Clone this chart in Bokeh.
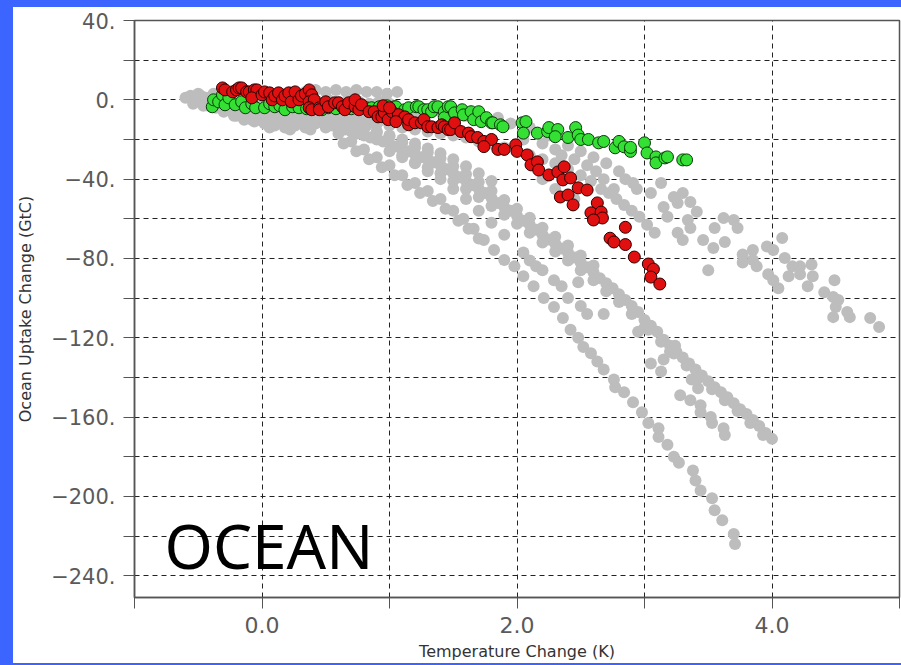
from bokeh.plotting import figure
from bokeh.layouts import row, column
from bokeh.models import Range1d, FixedTicker, Label, Spacer
from bokeh.embed import file_html
from bokeh.resources import INLINE

# ---------------- data ----------------
# grey model cloud: cluster near zero
gray_top_upper_x = [-0.56, -0.50, -0.44, -0.38, -0.30, -0.22, -0.14, -0.06, 0.02, 0.10, 0.18,
                    0.26, 0.34, 0.42, 0.50, 0.58, 0.66, 0.74, 0.82, 0.90, 0.98, 1.06]
gray_top_upper_y = [2, 3, 1, 3, 3, 2, 2, 1, 1, 2, 3, 4, 4, 5, 4, 5, 4, 5, 4, 4, 3, 4]

gray_top_row2_x = [-0.52, -0.44, -0.36, -0.28, -0.20, -0.12, -0.04, 0.04, 0.12, 0.20, 0.28, 0.36,
                   0.44, 0.52, 0.60, 0.68, 0.76, 0.84, 0.92, 1.00]
gray_top_row2_y = [0, -1, 0, -2, -1, -2, -3, -2, -3, -2, -1, -2, -1, 0, -1, 0, -1, -2, -1, -2]

gray_top_row3_x = [-0.60, -0.54, -0.48, -0.42, -0.36, -0.30, -0.24, -0.18, -0.12, -0.06, 0.00,
                   0.06, 0.12, 0.18, 0.24, 0.30, 0.36, 0.42, 0.48, 0.54, 0.60, 0.66, 0.72, 0.78,
                   0.84, 0.90, 0.96]
gray_top_row3_y = [1, -2, 2, -3, -4, -3, -5, -4, -5, -4, -5, -4, -5, -4, -3, -4, -3, -4, -3, -4,
                   -3, -2, -3, -2, -3, -2, -1]

gray_top_mid_x = [-0.52, -0.46, -0.40, -0.34, -0.26, -0.18, -0.10, -0.02, 0.06, 0.14, 0.22, 0.30,
                  0.38, 0.46, 0.54, 0.62, 0.70, 0.78, 0.86, 0.94, 1.02, 1.10, 1.20, 1.30, 1.40,
                  1.50, 1.60, 1.70]
gray_top_mid_y = [-1, -3, -1, -3, -4, -5, -6, -7, -6, -8, -7, -8, -6, -7, -6, -7, -6, -5, -6, -5,
                  -4, -5, -6, -5, -6, -7, -8, -9]

gray_top_row4_x = [-0.20, -0.14, -0.08, -0.02, 0.04, 0.10, 0.16, 0.22, 0.28, 0.34, 0.40, 0.46,
                   0.52, 0.58, 0.64, 0.70, 0.76, 0.82, 0.88, 0.94, 1.00]
gray_top_row4_y = [-8, -9, -10, -10, -11, -10, -11, -10, -11, -10, -9, -10, -9, -10, -9, -10, -9,
                   -10, -11, -10, -11]

gray_top_low_x = [-0.30, -0.22, -0.14, -0.06, 0.02, 0.10, 0.18, 0.26, 0.34, 0.42, 0.50, 0.58,
                  0.66, 0.74, 0.82, 0.90, 0.06, 0.22, 0.38]
gray_top_low_y = [-6, -8, -10, -11, -12, -13, -14, -13, -14, -12, -12, -12, -13, -12, -13, -12,
                  -14, -15, -15]

# grey strand just below the red series
gray_d_x = [0.60, 0.70, 0.80, 0.90, 1.00, 1.10, 1.20, 1.30, 1.40, 1.50, 1.60, 1.70, 1.80, 1.90,
            2.00, 2.10, 2.20, 2.30, 2.40, 2.50, 2.58, 2.66, 2.72, 2.78, 2.84, 2.90, 2.96, 3.02, 3.08]
gray_d_y = [-9, -10, -11, -12, -13, -14, -15, -16, -17, -18, -19, -21, -22, -24, -26, -28, -30,
            -32, -35, -38, -41, -45, -47, -50, -53, -56, -59, -63, -67]

# grey strand between that one and the long band
gray_f_x = [0.70, 0.80, 0.90, 1.00, 1.10, 1.20, 1.30, 1.40, 1.50, 1.60, 1.70, 1.80]
gray_f_y = [-13, -14.5, -16, -18, -20, -22, -24.5, -27, -30, -33.5, -37, -41]

# grey scatter between green and red, right half
gray_e_x = [1.85, 1.95, 2.05, 2.10, 2.20, 2.25, 2.30, 2.35, 2.40, 2.45, 2.50, 2.55, 2.60, 2.62,
            2.68, 2.70, 2.76, 2.80, 2.85, 2.91, 2.94, 3.05, 3.13, 3.23, 3.30, 3.26, 3.36, 3.41,
            3.15, 3.18, 3.34, 3.26, 3.30, 3.36, 3.46, 3.54, 3.55, 3.63, 3.62, 3.70, 3.73, 3.50,
            2.20, 2.30, 2.45]
gray_e_y = [-9, -12, -20, -14, -22, -18, -25, -28, -23, -30, -26, -33, -29, -36, -40, -32, -45,
            -36, -40, -42, -45, -47, -42, -49, -47, -52, -51.5, -56.5, -54, -59, -60.6, -67,
            -70.7, -64.6, -70.7, -74.7, -64.6, -71.7, -59.6, -60.6, -64.6, -85.9, -40, -45, -50]

# grey tail on the far right
gray_r_x = [3.77, 3.77, 3.85, 3.85, 3.88, 3.96, 4.01, 4.08, 4.10, 4.16, 4.13, 4.22, 4.22, 4.31,
            4.32, 4.28, 4.05, 3.97, 4.01, 4.41, 4.49, 4.48, 4.52, 4.50, 4.48, 4.59, 4.61, 4.77, 4.84]
gray_r_y = [-78, -82, -75.8, -80.8, -84, -74, -75.8, -69.7, -79.8, -84, -89, -84, -88, -83, -89,
            -94, -95, -88, -91, -97, -91, -99.5, -101, -104.5, -109.6, -107, -109.6, -110, -114.6]

# long grey band ending near (4.0, -170)
gray_a_x = [0.50, 0.55, 0.60, 0.65, 0.70, 0.75, 0.80, 0.85, 0.90, 0.95, 1.00, 1.05, 1.10, 1.15,
            1.20, 1.25, 1.30, 1.35, 1.40, 1.45, 1.50, 1.55, 1.60, 1.65, 1.70, 1.75, 1.80, 1.85,
            1.90, 1.95, 2.00, 2.05, 2.10, 2.15, 2.20, 2.25, 2.30, 2.35, 2.40, 2.45, 2.50, 2.55,
            2.60, 2.65, 2.70, 2.75, 2.80, 2.85, 2.90, 2.95, 3.00, 3.05, 3.10, 3.15, 3.20, 3.25,
            3.30, 3.35, 3.40, 3.45, 3.50, 3.55, 3.60, 3.65, 3.70, 3.75, 3.80, 3.85, 3.90, 3.95, 4.00]
gray_a_y = [-12, -13, -14, -15, -16, -17, -18, -19, -20, -21, -22, -23.5, -25, -26, -27.5, -29,
            -30, -31.5, -33, -35, -37, -39, -41, -43, -45, -47, -49.5, -52, -54, -56, -58.5, -61,
            -63, -65.5, -68, -70.5, -72.5, -75, -77, -79.5, -82, -84.5, -87, -90, -92.5, -95, -98,
            -101, -104, -107, -111, -114, -117, -121, -124, -127, -130, -133, -136, -139, -142,
            -145, -147.5, -150, -153, -156, -158.5, -161.5, -164.5, -168, -171]

gray_a2_x = [1.00, 1.10, 1.20, 1.30, 1.40, 1.50, 1.60, 1.70, 1.80, 1.90, 2.00, 2.10, 2.20, 2.30,
             2.40, 2.50, 2.60, 2.70, 2.80, 2.90, 3.00]
gray_a2_y = [-26, -29, -31.5, -34, -37, -41, -45, -49, -53.5, -58, -62.5, -67, -72, -76.5, -81,
             -86, -91, -96.5, -102, -108, -115]

gray_a3_x = [0.60, 0.70, 0.80, 0.90, 1.00, 1.10, 1.20, 1.30, 1.40, 1.50, 1.60, 1.70, 1.80, 1.90,
             2.00, 2.10, 2.20, 2.30, 2.40, 2.50, 2.60]
gray_a3_y = [-10.5, -12.5, -14.5, -16.5, -18.5, -21.5, -24, -26.5, -29.5, -33.5, -37.5, -41.5,
             -46, -50.5, -55, -59.5, -64.5, -69, -73.5, -78.5, -83.5]

gray_a4_x = [3.03, 3.13, 3.23, 3.33, 3.43, 3.53, 3.63, 3.73, 3.83, 3.93]
gray_a4_y = [-116, -122, -128, -134, -140, -146, -151.5, -157, -163, -169]

# steep grey band ending near (3.7, -224)
gray_b_x = [0.50, 0.60, 0.70, 0.80, 0.90, 1.00, 1.10, 1.20, 1.30, 1.40, 1.50, 1.58, 1.66, 1.74,
            1.82, 1.90, 1.98, 2.05, 2.13, 2.21, 2.29, 2.36, 2.42, 2.48, 2.52, 2.58, 2.63, 2.68,
            2.76, 2.77, 2.84, 2.91, 2.98, 3.03, 3.11, 3.11, 3.18, 3.23, 3.27, 3.38, 3.40, 3.44,
            3.53, 3.55, 3.61, 3.70, 3.71]
gray_b_y = [-14, -17, -21, -25, -29, -33, -38, -42, -46, -50, -56, -60, -65, -70.7, -75.8, -80.8,
            -84, -89, -94, -100, -104.5, -110, -116, -120, -124.7, -127.8, -132, -136, -141, -145,
            -147.5, -152.5, -157.6, -163, -165.7, -170, -174, -180, -183, -187, -192, -197, -201,
            -207, -212, -219, -224]

gray_b2_x = [0.64, 0.74, 0.84, 0.94, 1.04, 1.14, 1.24, 1.34, 1.44, 1.54, 1.62, 1.70]
gray_b2_y = [-22, -26, -30, -34, -38, -43, -47, -51, -55, -61, -65, -70]

# scattered grey points between the two long bands
gray_c_x = [1.10, 1.20, 1.30, 1.40, 1.50, 1.60, 1.70, 1.80, 1.90, 2.05, 2.10, 2.15, 2.20, 2.29,
            2.35, 2.40, 2.48, 2.50, 2.55, 2.68, 2.95, 3.05, 3.15, 3.13, 3.20, 3.24, 3.28, 3.36,
            3.37, 3.42, 3.44, 3.44, 3.52, 3.53, 3.62, 3.63]
gray_c_y = [-28, -32, -36, -40, -45, -50, -56, -62, -68, -77, -81, -84, -86, -91, -94, -100, -92,
            -104, -108, -108, -117, -133, -131, -137, -127, -124, -149, -151.5, -141, -145.5,
            -154, -157.6, -160, -163, -165.7, -169]

# red series
red_x = [-0.31, -0.29, -0.23, -0.20, -0.18, -0.16, -0.12, -0.10, -0.06, -0.04, -0.08, 0.00, 0.02,
         0.06, 0.08, 0.10, 0.13, 0.16, 0.18, 0.21, 0.23, 0.26, 0.29, 0.31, 0.34, 0.37, 0.39, 0.37,
         0.41, 0.37, 0.39, 0.45, 0.45, 0.50, 0.52, 0.57, 0.60, 0.63, 0.65, 0.68, 0.73, 0.73, 0.76,
         0.78, 0.84, 0.88, 0.91, 0.94, 0.96, 0.99, 1.02, 1.07, 1.12, 1.15, 1.15, 1.20, 1.25, 1.27,
         1.30, 1.33, 1.38, 1.41, 1.43, 1.46, 1.48, 1.51, 1.56, 1.62, 1.64, 1.69, 1.74, 1.80, 1.74,
         1.85, 1.90, 1.99, 2.00, 2.08, 2.11, 2.16, 2.17, 2.25, 2.32, 2.37, 2.36, 2.42, 2.48, 2.55,
         2.34, 2.40, 2.44, 2.63, 2.58, 2.66, 2.67, 2.60, 2.85, 2.73, 2.76, 2.85, 2.92, 3.03, 3.07,
         3.05, 3.12, 0.95, 1.00, 1.05]
red_y = [6, 5, 4, 5, 6, 6, 4, 4, 5, 5, 1, 2.5, 4, 3.5, 0, 2, 3.5, 0, 2, 3.5, -1, 4, 0, 2, 3, 5,
         2.5, -1, 0, -4, -5, -4, -5, -1, -3.5, -1.5, -1.5, -3.5, -5, -1.5, -3.5, 0, -5, -2.5, -6,
         -6, -8.6, -8.5, -6.6, -10, -6, -7.5, -8.6, -12.6, -10, -11.6, -11.6, -10, -13.6, -13.6,
         -14, -12.6, -13.6, -15, -15, -11.6, -16, -16.8, -18.6, -19, -21, -20, -23.6, -25, -25,
         -22.7, -26, -27.8, -32.8, -31.3, -35.4, -37.9, -36.4, -33.8, -40.4, -39.4, -44.4, -45.5,
         -49, -48, -53, -52, -57, -56.6, -59.6, -60.6, -64.3, -69.8, -71.7, -73, -79.3, -82.8,
         -85.4, -89.4, -92.9, -3, -4, -11]

# green series
green_x = [-0.39, -0.38, -0.34, -0.31, -0.29, -0.26, -0.21, -0.16, -0.13, -0.08, -0.05, 0.02, 0.06,
           0.10, 0.14, 0.18, 0.24, 0.29, 0.35, 0.41, 0.47, 0.52, 0.58, 0.64, 0.70, 0.76, 0.82,
           0.86, 0.92, 0.98, 1.04, 1.05, 1.12, 1.15, 1.21, 1.23, 1.27, 1.30, 1.33, 1.35, 1.38,
           1.43, 1.43, 1.46, 1.48, 1.51, 1.57, 1.58, 1.64, 1.66, 1.70, 1.72, 1.76, 1.80, 1.81,
           1.87, 1.89, 2.04, 2.07, 2.05, 2.16, 2.24, 2.25, 2.32, 2.30, 2.40, 2.46, 2.48, 2.50,
           2.56, 2.64, 2.68, 2.77, 2.80, 2.84, 2.89, 2.89, 3.00, 3.02, 3.09, 3.09, 3.16, 3.18,
           3.30, 3.33]
green_y = [-3.5, 0, -1, 2.5, -2.5, 1, -2.5, -1, -4, -2, -4, -4, -2, -3.5, -3, -5, -3.5, -4, -4.5,
           -4, -5, -4, -4.5, -4, -4.5, -4, -4, -4, -3.5, -3, -3.5, -3.5, -5, -4, -3.5, -3.5, -5,
           -5, -6, -3.5, -3.5, -6, -9, -3.5, -3.5, -6.6, -5, -7.6, -6, -10, -6, -11, -9, -11.6,
           -11.6, -12.6, -13.6, -11.6, -11, -16.8, -16.8, -16, -14, -15, -18.6, -19, -14, -17.8,
           -20, -20, -21.7, -21, -24.2, -21, -23.7, -26, -24, -21.7, -26.8, -28.8, -31.8, -29.3,
           -28.8, -30.3, -30.3]

x_major = [0, 2, 4]
x_minor = [-1, 1, 3, 5]
x_labels = ["0.0", "2.0", "4.0"]
y_major = [-240, -200, -160, -120, -80, -40, 0, 40]
y_minor = [-220, -180, -140, -100, -60, -20, 20]
y_labels = ["\u2212240.", "\u2212200.", "\u2212160.", "\u2212120.", "\u221280.", "\u221240.", "0.", "40."]

gray_x = (gray_top_upper_x + gray_top_row2_x + gray_top_row3_x + gray_top_mid_x + gray_top_row4_x
          + gray_top_low_x + gray_d_x + gray_f_x + gray_e_x + gray_r_x + gray_a_x + gray_a2_x
          + gray_a3_x + gray_a4_x + gray_b_x + gray_b2_x + gray_c_x)
gray_y = (gray_top_upper_y + gray_top_row2_y + gray_top_row3_y + gray_top_mid_y + gray_top_row4_y
          + gray_top_low_y + gray_d_y + gray_f_y + gray_e_y + gray_r_y + gray_a_y + gray_a2_y
          + gray_a3_y + gray_a4_y + gray_b_y + gray_b2_y + gray_c_y)

# ---------------- figure ----------------
fig = figure(width=888, height=656, x_range=Range1d(-1, 5), y_range=Range1d(-251, 40),
             output_backend="svg", toolbar_location=None,
             min_border_left=120, min_border_right=2, min_border_top=13, min_border_bottom=66,
             background_fill_color="white", border_fill_color="white")

fig.outline_line_color = "#555555"
fig.outline_line_width = 1.5

GRID = "#222222"
for g in (fig.xgrid, fig.ygrid):
    g.grid_line_color = GRID
    g.grid_line_dash = "5 4"
    g.grid_line_width = 1
    g.minor_grid_line_color = GRID
    g.minor_grid_line_dash = "5 4"
    g.minor_grid_line_width = 1

fig.xaxis.ticker = FixedTicker(ticks=x_major, minor_ticks=x_minor)
fig.yaxis.ticker = FixedTicker(ticks=y_major, minor_ticks=y_minor)
fig.xaxis.major_label_overrides = dict(zip(x_major, x_labels))
fig.yaxis.major_label_overrides = dict(zip(y_major, y_labels))

for ax in (fig.xaxis, fig.yaxis):
    ax.axis_line_color = "#555555"
    ax.axis_line_width = 1.5
    ax.major_tick_line_color = "#555555"
    ax.minor_tick_line_color = "#555555"
    ax.major_tick_in = 0
    ax.major_tick_out = 11
    ax.minor_tick_in = 0
    ax.minor_tick_out = 11
    ax.major_label_text_font = "DejaVu Sans"
    ax.major_label_text_color = "#5a5a5a"
    ax.axis_label_text_font = "DejaVu Sans"
    ax.axis_label_text_font_style = "normal"
    ax.axis_label_text_font_size = "16px"
    ax.axis_label_text_color = "#333333"

fig.xaxis.major_label_text_font_size = "22px"
fig.yaxis.major_label_text_font_size = "21px"
fig.xaxis.major_label_standoff = 8
fig.yaxis.major_label_standoff = 8
fig.xaxis.axis_label = "Temperature Change (K)"
fig.yaxis.axis_label = "Ocean Uptake Change (GtC)"
fig.xaxis.axis_label_standoff = 6
fig.yaxis.axis_label_standoff = 13

fig.scatter(gray_x, gray_y, size=12, fill_color="#bdbdbd", line_color=None)
fig.scatter(green_x, green_y, size=12, fill_color="#33e033", line_color="#0b3a0b", line_width=1)
fig.scatter(red_x, red_y, size=12, fill_color="#e01010", line_color="#2a0000", line_width=1)

fig.add_layout(Label(x=-0.765, y=-224.5, text="OCEAN", text_font="Noto Sans",
                     text_font_size="62px", text_color="black", text_baseline="alphabetic"))

BLUE = "#3c64ff"
bg = {"background-color": BLUE}
inner = column(Spacer(width=888, height=7, styles=bg), fig,
               Spacer(width=888, height=2, styles=bg), spacing=0)
p = row(Spacer(width=13, height=665, styles=bg), inner, spacing=0)

open("out.html", "w").write(file_html(p, INLINE))
